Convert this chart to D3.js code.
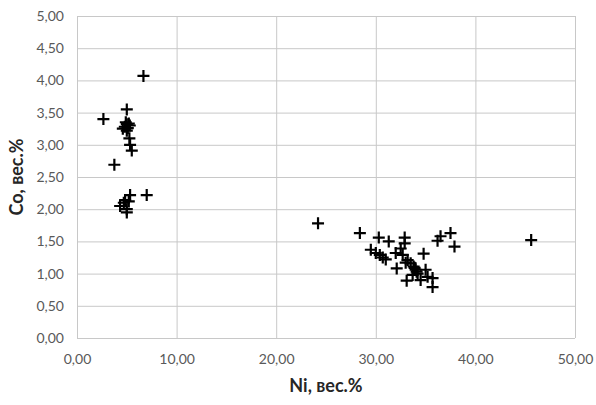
<!DOCTYPE html>
<html>
<head>
<meta charset="utf-8">
<script src="https://cdn.jsdelivr.net/npm/d3@7"></script>
<style>
    body { margin: 0; background: #fff; }
</style>
</head>
<body>
<div id="app"></div>
<script>
// Ni, вес.% values
const niValues = [
    6.67, 2.65, 5.0, 4.8, 5.0, 5.2, 4.6, 5.0, 5.3, 4.9, 5.1,
    5.26, 5.33, 5.5, 3.75, 5.33, 7.0, 4.83, 4.33, 5.0, 5.0, 4.7, 5.2,
    24.2, 28.4, 30.3, 31.3, 32.9, 32.9, 29.5, 30.0, 30.4, 31.0, 32.0,
    32.5, 32.7, 32.1, 33.2, 33.5, 33.8, 34.0, 34.2, 33.7, 33.1, 34.5,
    34.8, 35.0, 35.7, 35.7, 35.2, 36.2, 36.5, 37.5, 37.9, 45.6,
    30.7, 33.0, 34.1, 33.9
];
// Co, вес.% values
const coValues = [
    4.07, 3.40, 3.55, 3.28, 3.32, 3.33, 3.25, 3.22, 3.30, 3.35, 3.26,
    3.10, 3.00, 2.91, 2.69, 2.22, 2.22, 2.14, 2.05, 2.00, 1.95, 2.10, 2.12,
    1.78, 1.63, 1.56, 1.50, 1.56, 1.47, 1.37, 1.32, 1.29, 1.22, 1.32,
    1.39, 1.29, 1.08, 1.21, 1.16, 1.11, 1.06, 1.00, 0.98, 0.89, 0.90,
    1.31, 1.06, 0.93, 0.79, 0.95, 1.51, 1.58, 1.63, 1.42, 1.52,
    1.25, 1.17, 1.03, 1.09
];
const xTicks = [0, 10, 20, 30, 40, 50];
const yTicks = [0, 0.5, 1, 1.5, 2, 2.5, 3, 3.5, 4, 4.5, 5];

const width = 596;
const height = 405;
const plotLeft = 77;
const plotRight = 575;
const plotTop = 16;
const plotBottom = 338;
const crossSize = 6;

const fmt = function (v) {
    return d3.format(".2f")(v).replace(".", ",");
};

const svg = d3.select("#app")
    .append("svg")
    .attr("width", width)
    .attr("height", height)
    .style("display", "block");

const x = d3.scaleLinear().domain([0, 50]).range([plotLeft, plotRight]);
const y = d3.scaleLinear().domain([0, 5]).range([plotBottom, plotTop]);

//GRID
svg.append("g")
    .attr("transform", "translate(0," + plotBottom + ")")
    .call(d3.axisBottom(x).tickValues(xTicks).tickSize(-(plotBottom - plotTop)).tickFormat(fmt))
    .call(function (g) {
        g.select(".domain").remove();
        g.selectAll("line").attr("stroke", "#c8c8c8").attr("stroke-width", 1);
        g.selectAll("text")
            .attr("dy", null)
            .attr("y", 26)
            .style("font-family", "Lato, 'Open Sans', sans-serif")
            .style("font-size", "14px")
            .attr("fill", "#595959");
    });

svg.append("g")
    .attr("transform", "translate(" + plotLeft + ",0)")
    .call(d3.axisLeft(y).tickValues(yTicks).tickSize(-(plotRight - plotLeft)).tickFormat(fmt))
    .call(function (g) {
        g.select(".domain").remove();
        g.selectAll("line").attr("stroke", "#c8c8c8").attr("stroke-width", 1);
        g.selectAll("text")
            .attr("x", -13)
            .style("font-family", "Lato, 'Open Sans', sans-serif")
            .style("font-size", "14px")
            .attr("fill", "#595959");
    });

//POINTS
const points = niValues.map(function (v, i) {
    return { ni: v, co: coValues[i] };
});

svg.append("g")
    .selectAll("path")
    .data(points)
    .enter()
    .append("path")
    .attr("d", function (d) {
        const cx = x(d.ni);
        const cy = y(d.co);
        return "M" + (cx - crossSize) + "," + cy + "H" + (cx + crossSize) +
            "M" + cx + "," + (cy - crossSize) + "V" + (cy + crossSize);
    })
    .attr("stroke", "#000")
    .attr("stroke-width", 2.2)
    .attr("fill", "none");

//AXIS TITLES
svg.append("text")
    .attr("x", (plotLeft + plotRight) / 2)
    .attr("y", 392)
    .attr("text-anchor", "middle")
    .style("font-family", "Lato, 'Open Sans', sans-serif")
    .style("font-size", "18px")
    .style("font-weight", "bold")
    .attr("fill", "#262626")
    .text("Ni, вес.%");

svg.append("text")
    .attr("transform", "translate(23," + (plotTop + plotBottom) / 2 + ") rotate(-90)")
    .attr("text-anchor", "middle")
    .style("font-family", "Lato, 'Open Sans', sans-serif")
    .style("font-size", "18px")
    .style("font-weight", "bold")
    .attr("fill", "#262626")
    .text("Co, вес.%");
</script>
</body>
</html>
